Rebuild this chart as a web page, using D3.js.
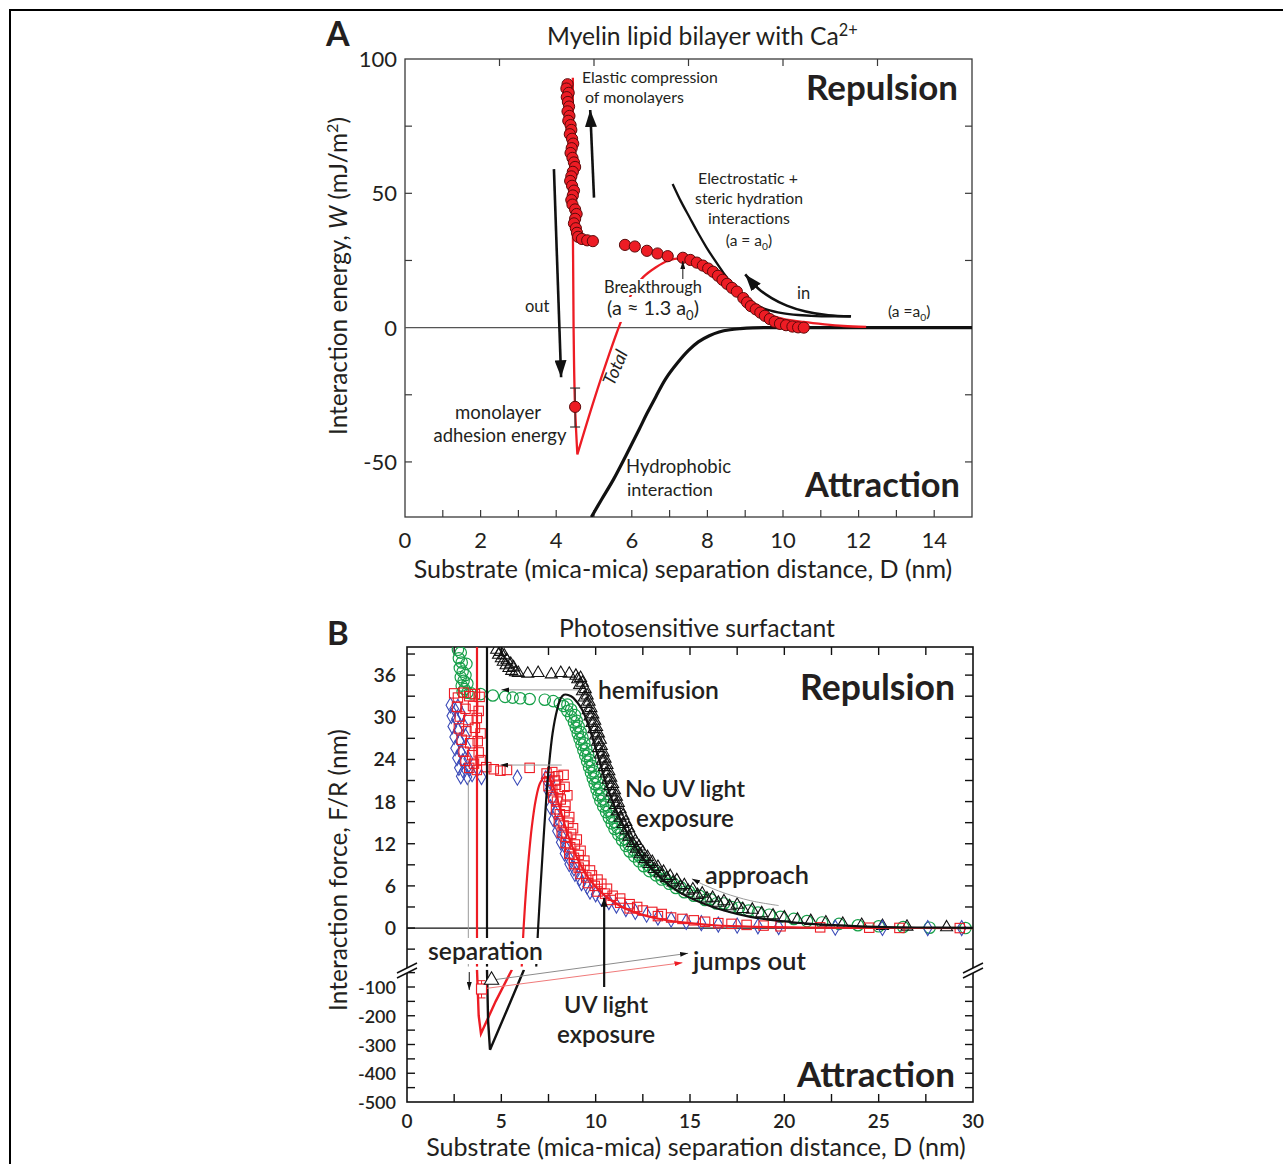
<!DOCTYPE html>
<html>
<head>
<meta charset="utf-8">
<script src="https://d3js.org/d3.v7.min.js"></script>
<style>
  body { margin: 0; background: #fff; }
  text { font-family: Lato, "Open Sans", sans-serif; fill: #231f20; }
</style>
</head>
<body>
<svg id="figure" width="1283" height="1164"></svg>
<script>
//----------------------------
// Panel A data (myelin bilayer, W vs D)
//----------------------------
var aXTicks = [0, 2, 4, 6, 8, 10, 12, 14];
var aYTicks = [-50, 0, 50, 100];

// measured energies (red dots), [D nm, W mJ/m2]
var aDots = [[4.30,90.6],[4.27,89.0],[4.33,87.4],[4.28,85.8],[4.31,84.0],[4.34,82.3],[4.30,80.5],[4.35,78.8],[4.32,77.0],[4.38,75.4],
  [4.40,73.6],[4.36,72.0],[4.42,70.3],[4.45,68.5],[4.41,66.8],[4.38,65.0],[4.43,63.2],[4.47,61.5],[4.50,59.8],[4.44,58.0],
  [4.40,56.3],[4.37,54.6],[4.42,52.8],[4.47,51.0],[4.44,49.2],[4.40,47.5],[4.43,45.8],[4.50,44.0],[4.54,42.3],[4.50,40.5],
  [4.47,38.8],[4.52,37.0],[4.55,35.3],[4.58,33.8],[4.68,33.0],[4.82,32.5],[4.97,32.2],
  [5.82,30.8],[6.08,30.2],[6.40,28.6],[6.68,27.6],[6.95,26.6],[7.35,26.0],[7.55,25.2],[7.72,24.2],[7.88,23.1],[8.02,22.0],
  [8.15,20.8],[8.28,19.3],[8.40,17.8],[8.52,16.3],[8.65,14.8],[8.78,13.4],[8.95,11.0],[9.05,9.4],[9.15,8.0],[9.28,6.8],
  [9.40,5.6],[9.52,4.4],[9.65,3.2],[9.78,2.2],[9.92,1.4],[10.08,0.9],[10.25,0.4],[10.40,0.1],[10.55,0.0]];

// adhesion point with error bar
var aAdhesion = [4.5, -29.5];
var aAdhesionErr = [-37, -22.5];

// "Total" fit (red)
var aTotal = [[4.44,93],[4.44,60],[4.44,40],[4.46,0],[4.50,-30],[4.56,-47.2],[5.0,-27],[5.4,-10],[5.6,-2],[5.8,5.5],
  [5.97,12],[6.15,16],[6.3,18.8],[6.64,22.5],[6.97,25],[7.3,25.8],[7.6,25.2],[7.9,23],[8.2,19.5],[8.5,16],
  [8.87,11.5],[9.2,8],[9.53,5.2],[10.0,3.3],[10.54,2.1],[11.1,1.2],[11.6,0.6],[12.2,0.25]];

// electrostatic + steric hydration (black)
var aElectro = [[7.08,53.5],[7.3,47],[7.53,41],[7.75,35.3],[7.97,30],[8.2,25],[8.42,20.5],[8.65,16.3],[8.87,12.8],
  [9.1,10.2],[9.31,8.3],[9.6,6.6],[9.98,5.4],[10.4,4.7],[10.87,4.3],[11.3,4.2],[11.77,4.2]];

// hydrophobic interaction (black)
var aHydro = [[4.93,-70.5],[5.2,-64],[5.52,-56.4],[5.85,-47.5],[6.19,-38],[6.4,-32],[6.64,-25.6],[6.9,-19],[7.2,-13.3],
  [7.5,-8.5],[7.76,-5.3],[8.05,-3],[8.31,-1.6],[8.6,-0.8],[8.87,-0.4],[9.2,-0.1],[9.5,0],[12,0],[15,0]];

// annotation arrows, data coords
var aInArrow = [[11.8,4.2],[11.2,4.6],[10.6,6],[10.1,8.2],[9.7,11],[9.35,14.5],[9.0,19.8]];
var aOutArrow = [[3.94,59],[4.13,-18.5]];
var aUpArrow = [[5.0,48.4],[4.9,81]];
var aBreakArrow = [[7.35,17.2],[7.35,24.8]];

//----------------------------
// Panel B data (photosensitive surfactant, F/R vs D)
//----------------------------
var bXTicks = [0, 5, 10, 15, 20, 25, 30];
var bYTicksUp = [0, 6, 12, 18, 24, 30, 36];
var bYTicksLow = [-500, -400, -300, -200, -100];

// no UV light (black triangles)
var bTriangles = [[4.75,39.6],[4.85,38.9],[4.95,39.3],[5.0,38.4],[5.1,37.9],[5.15,38.8],[5.25,37.4],[5.3,38.1],[5.4,37.0],[5.5,37.6],
  [5.55,36.6],[5.65,37.1],[5.75,36.4],[5.9,36.3],[6.4,36.2],[6.95,36.3],[7.65,36.1],[8.15,36.3],[8.6,36.2],[8.95,35.9],
  [9.05,35.4],[9.2,35.6],[9.15,34.6],[9.3,34.9],[9.3,33.7],[9.45,34.0],[9.4,32.8],[9.55,33.1],[9.5,31.9],[9.65,32.2],
  [9.6,31.0],[9.75,31.3],[9.7,30.1],[9.85,30.4],[9.8,29.2],[9.95,29.5],[9.9,28.3],[10.05,28.6],[10.0,27.4],[10.15,27.7],
  [10.1,26.5],[10.25,26.8],[10.15,25.6],[10.3,25.9],[10.25,24.7],[10.4,25.0],[10.35,23.8],[10.5,24.1],[10.45,22.9],[10.6,23.2],
  [10.55,22.0],[10.7,22.3],[10.65,21.1],[10.8,21.4],[10.75,20.2],[10.9,20.5],[10.85,19.3],[11.0,19.6],[10.95,18.4],[11.1,18.7],
  [11.05,17.5],[11.2,17.8],[11.15,16.6],[11.3,16.9],[11.3,15.7],[11.45,16.0],[11.45,14.8],[11.6,15.1],[11.6,13.9],[11.75,14.2],
  [11.75,13.0],[11.9,13.3],[11.95,12.1],[12.1,12.4],[12.15,11.3],[12.3,11.6],[12.35,10.5],[12.5,10.8],[12.6,9.8],[12.75,10.1],
  [12.85,9.1],[13.0,9.4],[13.1,8.4],[13.3,8.7],[13.4,7.8],[13.6,8.0],[13.75,7.1],[13.95,7.4],[14.1,6.5],[14.3,6.8],
  [14.5,5.9],[14.7,6.1],[14.9,5.3],[15.15,5.5],[15.4,4.7],[15.65,4.9],[15.9,4.2],[16.2,4.3],[16.5,3.6],[16.8,3.8],
  [17.1,3.1],[17.5,3.3],[17.8,2.7],[18.3,2.6],[18.8,2.1],[19.4,1.8],[20.0,1.5],[20.7,1.2],[21.4,1.0],[22.2,0.8],
  [23.1,0.6],[24.1,0.45],[25.2,0.3],[26.5,0.2],[28.6,0.1]];

// no UV light (green circles)
var bCircles = [[2.7,39.6],[2.85,39.2],[2.75,38.4],[2.9,37.8],[2.8,37.0],[2.95,36.5],[2.85,35.7],[3.0,35.2],[2.9,34.5],[3.05,34.0],
  [3.15,37.6],[3.1,36.0],[3.2,34.8],[2.95,33.6],[3.2,33.5],[3.4,33.4],[3.9,33.3],[4.55,33.1],[5.2,32.9],[5.6,32.8],
  [6.0,32.7],[6.5,32.6],[7.3,32.5],[7.75,32.3],[8.1,32.0],[8.3,31.6],[8.5,31.8],[8.5,30.9],[8.7,31.1],[8.7,30.1],
  [8.9,30.3],[8.85,29.3],[9.0,29.5],[8.95,28.5],[9.1,28.7],[9.05,27.7],[9.2,27.9],[9.15,26.9],[9.3,27.1],[9.25,26.1],
  [9.4,26.3],[9.35,25.3],[9.5,25.5],[9.45,24.5],[9.6,24.7],[9.55,23.7],[9.7,23.9],[9.65,22.9],[9.8,23.1],[9.75,22.1],
  [9.9,22.3],[9.85,21.3],[10.0,21.5],[9.95,20.5],[10.1,20.7],[10.05,19.7],[10.2,19.9],[10.15,18.9],[10.3,19.1],[10.25,18.1],
  [10.4,18.3],[10.4,17.3],[10.55,17.5],[10.55,16.5],[10.7,16.7],[10.7,15.7],[10.85,15.9],[10.85,14.9],[11.0,15.1],[11.0,14.1],
  [11.15,14.3],[11.2,13.3],[11.35,13.5],[11.4,12.5],[11.55,12.7],[11.6,11.7],[11.75,11.9],[11.8,10.9],[12.0,11.1],[12.05,10.2],
  [12.25,10.4],[12.3,9.5],[12.5,9.7],[12.55,8.8],[12.75,9.0],[12.85,8.1],[13.05,8.3],[13.2,7.5],[13.4,7.6],[13.5,6.9],
  [13.7,7.0],[13.9,6.3],[14.1,6.4],[14.25,5.7],[14.5,5.8],[14.7,5.1],[14.95,5.2],[15.2,4.6],[15.5,4.6],[15.8,4.0],
  [16.1,4.1],[16.4,3.5],[16.8,3.5],[17.2,3.0],[17.6,2.9],[18.1,2.5],[18.6,2.2],[19.2,1.9],[19.8,1.6],[20.5,1.3],
  [21.2,1.0],[22.0,0.8],[22.9,0.6],[23.9,0.4],[25.0,0.25],[26.3,0.15],[27.7,0.05],[29.6,0.0]];

// UV light exposure (red squares)
var bSquares = [[2.5,33.4],[2.7,32.8],[3.0,33.5],[3.3,33.0],[3.6,33.3],[3.85,32.9],[2.65,31.5],[3.1,31.2],[3.5,31.6],[3.8,30.9],
  [2.8,30.1],[3.25,29.6],[3.7,29.9],[2.75,28.4],[3.15,28.0],[3.6,28.5],[3.9,27.7],[2.9,26.8],[3.35,26.3],[3.75,26.6],
  [3.0,25.1],[3.45,24.6],[3.8,25.0],[3.1,23.8],[3.55,23.4],[3.9,23.9],[3.3,22.8],[3.7,22.5],
  [4.2,22.9],[4.6,22.6],[4.95,22.4],[5.3,22.5],[6.5,22.8],
  [7.4,22.0],[7.55,21.5],[7.7,22.2],[7.85,21.0],[8.0,21.6],[8.3,21.8],[7.5,20.2],[7.7,19.6],[7.9,20.4],[8.1,19.8],
  [8.35,20.1],[8.5,18.9],[7.75,18.6],[7.95,18.0],[8.15,18.3],[8.4,17.4],[7.9,16.9],[8.1,16.2],[8.35,16.6],[8.6,15.8],
  [8.05,15.2],[8.3,14.6],[8.55,15.0],[8.8,14.2],[8.2,13.6],[8.45,13.0],[8.7,13.4],[9.0,12.6],[8.4,12.1],[8.65,11.5],
  [8.9,11.9],[9.2,11.0],[8.6,10.6],[8.85,10.0],[9.1,10.4],[9.4,9.6],[8.85,9.1],[9.1,8.6],[9.4,8.9],[9.7,8.2],
  [9.2,7.7],[9.5,7.2],[9.8,7.5],[10.1,6.9],[9.6,6.4],[9.95,6.0],[10.3,6.3],[10.6,5.6],[10.1,5.2],[10.5,4.9],
  [10.9,4.6],[11.3,4.2],[10.8,4.0],[11.3,3.6],[11.8,3.4],[12.2,3.0],[11.8,2.8],[12.5,2.5],[13.0,2.3],[13.5,2.0],
  [13.3,1.7],[14.0,1.5],[14.6,1.3],[15.2,1.1],[15.8,0.9],[16.5,0.7],[17.2,0.6],[18.0,0.45],[18.9,0.35],[19.8,0.25],
  [21.9,0.1],[24.5,0.05],[26.1,0.02],[29.3,0.0]];

// UV light exposure (blue diamonds)
var bDiamonds = [[2.3,31.7],[2.5,31.2],[2.7,31.5],[2.35,30.2],[2.6,29.8],[2.9,30.4],[2.4,28.7],[2.7,28.2],[3.0,28.9],[2.5,27.2],
  [2.8,26.7],[3.1,27.3],[2.55,25.6],[2.85,25.1],[3.15,25.8],[2.65,24.2],[2.95,23.7],[3.25,24.1],[2.75,22.8],[3.0,22.3],
  [3.3,22.7],[2.85,21.6],[3.2,21.5],[3.45,21.9],[3.95,21.5],[5.85,21.4],
  [7.35,21.3],[7.6,20.8],[7.5,19.5],[7.7,18.5],[7.6,17.2],[7.85,16.4],[7.75,15.5],[8.0,14.7],[7.95,13.8],[8.2,13.1],
  [8.15,12.2],[8.4,11.5],[8.35,10.6],[8.6,9.9],[8.6,9.1],[8.85,8.5],[8.9,7.7],[9.15,7.1],[9.25,6.4],[9.55,5.9],
  [9.7,5.2],[10.0,4.8],[10.3,4.2],[10.7,3.7],[11.1,3.2],[11.6,2.7],[12.1,2.3],[12.7,1.9],[13.3,1.5],[14.0,1.2],
  [14.8,0.9],[15.6,0.7],[16.5,0.5],[17.5,0.35],[18.6,0.25],[19.7,0.15],[22.7,0.05],[25.2,0.02],[27.6,0.0],[29.4,0.0]];

// fitted curves, upper (repulsive) part
var bFitNoUV = [[6.85,-5.5],[6.95,0],[7.08,6],[7.22,12],[7.37,18],[7.52,23],[7.72,27.8],[7.95,31],[8.15,32.7],[8.32,33.2],
  [8.7,33.0],[9.0,32.2],[9.3,31.0],[9.6,29.0],[9.9,26.5],[10.2,23.8],[10.5,21],[10.9,18],[11.4,15],[12.0,12],
  [12.7,9.3],[13.5,7],[14.5,5],[15.6,3.6],[16.8,2.5],[18.2,1.6],[19.8,1],[21.6,0.55],[24,0.25],[27,0.08],[30,0.02]];
var bFitUV = [[6.08,-5.5],[6.18,0],[6.3,5],[6.45,10],[6.62,14.5],[6.82,18.2],[7.05,20.6],[7.3,21.5],[7.55,21.2],[7.8,19.8],
  [8.05,17.6],[8.35,14.8],[8.7,12],[9.1,9.5],[9.6,7.2],[10.2,5.3],[11,3.6],[12,2.3],[13.2,1.4],[14.6,0.8],
  [16.3,0.4],[18.5,0.18],[21,0.07],[25,0.02],[30,0]];
var bWallNoUV = [[4.24,40],[4.24,-5.5]];
var bWallUV = [[3.71,40],[3.71,-5.5]];
var bWallGray = [[3.25,21],[3.25,-5.5]];

// fitted curves, lower (adhesive) part
var bFitNoUVLow = [[4.24,-40],[4.3,-220],[4.4,-318],[5.3,-180],[6.2,-40]];
var bFitUVLow = [[3.71,-40],[3.8,-200],[3.92,-262],[4.7,-150],[5.56,-40]];
var bSepSquare = [3.95, -107];
var bSepSquareErr = [-138, -78];
var bSepTriangle = [4.48, -76];

//----------------------------
// Setup
//----------------------------
var svg = d3.select("#figure");
var defs = svg.append("defs");

// arrow heads
function head(id, len, wid, color) {
    defs.append("marker")
        .attr("id", id)
        .attr("viewBox", "0 0 " + len + " " + wid)
        .attr("refX", len).attr("refY", wid / 2)
        .attr("markerUnits", "userSpaceOnUse")
        .attr("markerWidth", len).attr("markerHeight", wid)
        .attr("orient", "auto")
        .append("path")
        .attr("d", "M0,0L" + len + "," + (wid / 2) + "L0," + wid + "Z")
        .attr("fill", color);
}
head("bigHead", 17, 12, "#111");
head("midHead", 9, 7, "#111");
head("smallHead", 8, 5, "#111");
head("redHead", 8, 5, "#ed1c24");

// text helper: parts = [[text, kind]], kind = sup | sub | it
function addText(g, x, y, parts, size, o) {
    o = o || {};
    if (typeof parts === "string") parts = [[parts]];
    function build(fs) {
        var t = g.append("text")
            .attr("x", x).attr("y", y)
            .attr("font-size", fs)
            .attr("text-anchor", o.anchor || "start")
            .attr("font-weight", o.weight || 400);
        if (o.italic) t.attr("font-style", "italic");
        if (o.rotate) t.attr("transform", "rotate(" + o.rotate + "," + x + "," + y + ")");
        var shift = 0;
        parts.forEach(function (p) {
            var s = t.append("tspan").text(p[0]);
            var want = p[1] === "sup" ? -0.38 * fs : p[1] === "sub" ? 0.25 * fs : 0;
            if (want !== shift) { s.attr("dy", want - shift); shift = want; }
            if (p[1] === "sup" || p[1] === "sub") s.attr("font-size", fs * 0.66);
            if (p[1] === "it") s.attr("font-style", "italic");
        });
        return t;
    }
    var t = build(size);
    if (o.width) {
        var len = t.node().getComputedTextLength();
        t.remove();
        t = build(size * o.width / len);
    }
    // white knock-out behind the label, drawn in a layer under all texts
    if (o.bg) {
        var bb = t.node().getBBox();
        o.bg.append("rect")
            .attr("x", bb.x - 1).attr("y", bb.y + 2)
            .attr("width", bb.width + 2).attr("height", bb.height - 3)
            .attr("fill", "#fff");
    }
    return t;
}

// inward ticks
function tickLines(g, vals, fn, color, width) {
    g.selectAll(null).data(vals).enter().append("line")
        .each(function (v) {
            var c = fn(v);
            d3.select(this).attr("x1", c[0]).attr("y1", c[1]).attr("x2", c[2]).attr("y2", c[3]);
        })
        .attr("stroke", color).attr("stroke-width", width);
}

// outer frame
svg.append("path")
    .attr("d", "M10,1164V10H1283")
    .attr("fill", "none").attr("stroke", "#000").attr("stroke-width", 2);

//----------------------------
// Panel A
//----------------------------
var xA = d3.scaleLinear().domain([0, 15]).range([405, 972]);
var yA = d3.scaleLinear().domain([-70.5, 100]).range([517, 59]);
var lineA = d3.line().x(d => xA(d[0])).y(d => yA(d[1])).curve(d3.curveCatmullRom);
var gA = svg.append("g");

defs.append("clipPath").attr("id", "clipA").append("rect")
    .attr("x", 405).attr("y", 59).attr("width", 567).attr("height", 458);

// box and zero line
gA.append("rect")
    .attr("x", 405).attr("y", 59).attr("width", 567).attr("height", 458)
    .attr("fill", "none").attr("stroke", "#3a3a3a").attr("stroke-width", 1.3);
gA.append("line")
    .attr("x1", 405).attr("x2", 972).attr("y1", yA(0)).attr("y2", yA(0))
    .attr("stroke", "#555").attr("stroke-width", 1.1);

tickLines(gA, d3.range(1, 15, 1), v => [xA(v), 517, xA(v), 510], "#3a3a3a", 1.2);
tickLines(gA, [2.5, 5, 7.5, 10, 12.5], v => [xA(v), 59, xA(v), 66], "#3a3a3a", 1.2);
tickLines(gA, [-50, -25, 25, 50, 75], v => [405, yA(v), 412, yA(v)], "#3a3a3a", 1.2);
tickLines(gA, [-50, -25, 25, 50, 75], v => [972, yA(v), 965, yA(v)], "#3a3a3a", 1.2);

// tick labels
aXTicks.forEach(function (v) {
    addText(gA, xA(v), 548, String(v), 22, {anchor: "middle"});
});
aYTicks.forEach(function (v) {
    addText(gA, 397, yA(v) + 8, String(v), 22, {anchor: "end"});
});

// titles
addText(gA, 326, 46, "A", 34, {weight: 700});
addText(gA, 547, 45, [["Myelin lipid bilayer with Ca"], ["2+", "sup"]], 23, {width: 311});
addText(gA, 683, 578, "Substrate (mica-mica) separation distance, D (nm)", 23, {anchor: "middle", width: 539});
addText(gA, 347, 276, [["Interaction energy, "], ["W", "it"], [" (mJ/m"], ["2", "sup"], [")"]], 23,
    {anchor: "middle", rotate: -90, width: 318});

// curves
var cA = gA.append("g").attr("clip-path", "url(#clipA)");
cA.append("path").attr("d", lineA(aHydro))
    .attr("fill", "none").attr("stroke", "#111").attr("stroke-width", 3.2);
cA.append("path").attr("d", lineA(aElectro))
    .attr("fill", "none").attr("stroke", "#111").attr("stroke-width", 2.3);
cA.append("path").attr("d", d3.line().x(d => xA(d[0])).y(d => yA(d[1])).curve(d3.curveMonotoneY)(aTotal.slice(0, 6))
        + lineA(aTotal.slice(5)).replace("M", "L"))
    .attr("fill", "none").attr("stroke", "#ed1c24").attr("stroke-width", 2.3);

// measured points
cA.selectAll(".dotA").data(aDots).enter().append("circle")
    .attr("class", "dotA")
    .attr("cx", d => xA(d[0])).attr("cy", d => yA(d[1])).attr("r", 5.6)
    .attr("fill", "#ed1c24").attr("stroke", "#5c0a0a").attr("stroke-width", 1);

// adhesion point + error bar
var eb = gA.append("g").attr("stroke", "#333").attr("stroke-width", 1.2);
eb.append("line").attr("x1", xA(aAdhesion[0])).attr("x2", xA(aAdhesion[0]))
    .attr("y1", yA(aAdhesionErr[0])).attr("y2", yA(aAdhesionErr[1]));
aAdhesionErr.forEach(function (v) {
    eb.append("line").attr("x1", xA(aAdhesion[0]) - 5).attr("x2", xA(aAdhesion[0]) + 5)
        .attr("y1", yA(v)).attr("y2", yA(v));
});
gA.append("circle")
    .attr("cx", xA(aAdhesion[0])).attr("cy", yA(aAdhesion[1])).attr("r", 5.6)
    .attr("fill", "#ed1c24").attr("stroke", "#5c0a0a").attr("stroke-width", 1);

// arrows
var straight = d3.line().x(d => xA(d[0])).y(d => yA(d[1]));
gA.append("path").attr("d", straight(aOutArrow))
    .attr("stroke", "#111").attr("stroke-width", 2.6).attr("fill", "none").attr("marker-end", "url(#bigHead)");
gA.append("path").attr("d", straight(aUpArrow))
    .attr("stroke", "#111").attr("stroke-width", 2.6).attr("fill", "none").attr("marker-end", "url(#bigHead)");
gA.append("path").attr("d", lineA(aInArrow))
    .attr("stroke", "#111").attr("stroke-width", 2.6).attr("fill", "none").attr("marker-end", "url(#bigHead)");
gA.append("path").attr("d", straight(aBreakArrow))
    .attr("stroke", "#111").attr("stroke-width", 1).attr("fill", "none").attr("marker-end", "url(#smallHead)");

// annotations
var knockA = gA.append("g");
addText(gA, 958, 100, "Repulsion", 32, {anchor: "end", weight: 700, width: 152});
addText(gA, 960, 497, "Attraction", 32, {anchor: "end", weight: 700, width: 155});
addText(gA, 582, 83, "Elastic compression", 15, {width: 136});
addText(gA, 585, 103, "of monolayers", 15, {width: 99});
addText(gA, 748, 184, "Electrostatic +", 15, {anchor: "middle", width: 100});
addText(gA, 749, 204, "steric hydration", 15, {anchor: "middle", width: 108});
addText(gA, 749, 224, "interactions", 15, {anchor: "middle", width: 82});
addText(gA, 749, 246, [["(a = a"], ["0", "sub"], [")"]], 15.5, {anchor: "middle"});
addText(gA, 797, 299, "in", 16.5);
addText(gA, 888, 317, [["(a =a"], ["0", "sub"], [")"]], 15.5);
addText(gA, 653, 293, "Breakthrough", 15, {anchor: "middle", width: 98, bg: knockA});
addText(gA, 653, 315, [["(a \u2248 1.3 a"], ["0", "sub"], [")"]], 15.5, {anchor: "middle", width: 92, bg: knockA});
addText(gA, 525, 312, "out", 16.5);
addText(gA, 621, 370, "Total", 18, {anchor: "middle", italic: true, rotate: -67});
addText(gA, 498, 419, "monolayer", 17, {anchor: "middle", width: 86});
addText(gA, 500, 442, "adhesion energy", 17, {anchor: "middle", width: 133});
addText(gA, 626, 473, "Hydrophobic", 17, {width: 105});
addText(gA, 627, 496, "interaction", 17, {width: 86});

//----------------------------
// Panel B
//----------------------------
var xB = d3.scaleLinear().domain([0, 30]).range([407, 973]);
var yBu = d3.scaleLinear().domain([-5.5, 40]).range([966.7, 647]);
var yBl = d3.scaleLinear().domain([-500, -40]).range([1102, 969.75]);
var lineBu = d3.line().x(d => xB(d[0])).y(d => yBu(d[1])).curve(d3.curveCatmullRom);
var lineBl = d3.line().x(d => xB(d[0])).y(d => yBl(d[1]));
var gB = svg.append("g");

defs.append("clipPath").attr("id", "clipBu").append("rect")
    .attr("x", 407).attr("y", 647).attr("width", 566).attr("height", 319.7);
defs.append("clipPath").attr("id", "clipBl").append("rect")
    .attr("x", 407).attr("y", 969.75).attr("width", 566).attr("height", 132.25);

// frame
gB.append("rect")
    .attr("x", 407).attr("y", 647).attr("width", 566).attr("height", 455)
    .attr("fill", "none").attr("stroke", "#111").attr("stroke-width", 1.6);
gB.append("line")
    .attr("x1", 407).attr("x2", 973).attr("y1", yBu(0)).attr("y2", yBu(0))
    .attr("stroke", "#111").attr("stroke-width", 1.3);

var bUpMinor = d3.range(-3, 40, 3);
var bLowMinor = d3.range(-450, -40, 50);
tickLines(gB, d3.range(2.5, 30, 2.5), v => [xB(v), 1102, xB(v), 1094], "#111", 1.4);
tickLines(gB, d3.range(2.5, 30, 2.5), v => [xB(v), 647, xB(v), 655], "#111", 1.4);
tickLines(gB, bUpMinor, v => [407, yBu(v), 415, yBu(v)], "#111", 1.4);
tickLines(gB, bUpMinor, v => [973, yBu(v), 965, yBu(v)], "#111", 1.4);
tickLines(gB, bLowMinor, v => [407, yBl(v), 415, yBl(v)], "#111", 1.4);
tickLines(gB, bLowMinor, v => [973, yBl(v), 965, yBl(v)], "#111", 1.4);

// axis breaks
[407, 973].forEach(function (ax) {
    gB.append("path")
        .attr("d", "M" + (ax - 10) + ",973L" + (ax + 10) + ",963L" + (ax + 10) + ",968L" + (ax - 10) + ",978Z")
        .attr("fill", "#fff");
    gB.append("path")
        .attr("d", "M" + (ax - 10) + ",973L" + (ax + 10) + ",963M" + (ax - 10) + ",978L" + (ax + 10) + ",968")
        .attr("stroke", "#111").attr("stroke-width", 1.5);
});

// tick labels
bXTicks.forEach(function (v) {
    addText(gB, xB(v), 1128, String(v), 19, {anchor: "middle", weight: 600});
});
bYTicksUp.forEach(function (v) {
    addText(gB, 396, yBu(v) + 7, String(v), 19.5, {anchor: "end", weight: 600});
});
bYTicksLow.forEach(function (v) {
    addText(gB, 396, yBl(v) + 7, String(v), 18, {anchor: "end", weight: 600});
});

// titles
addText(gB, 327, 645, "B", 33, {weight: 700});
addText(gB, 697, 637, "Photosensitive surfactant", 23, {anchor: "middle", width: 276});
addText(gB, 696, 1156, "Substrate (mica-mica) separation distance, D (nm)", 23, {anchor: "middle", width: 540});
addText(gB, 347, 870, "Interaction force, F/R (nm)", 23, {anchor: "middle", rotate: -90, width: 282});

// scatter, upper part
var up = gB.append("g").attr("clip-path", "url(#clipBu)");
var sym = d3.symbol();
up.selectAll(".circ").data(bCircles).enter().append("circle")
    .attr("class", "circ")
    .attr("cx", d => xB(d[0])).attr("cy", d => yBu(d[1])).attr("r", 5.7)
    .attr("fill", "none").attr("stroke", "#17a04a").attr("stroke-width", 1.2);
up.selectAll(".tri").data(bTriangles).enter().append("path")
    .attr("class", "tri")
    .attr("transform", d => "translate(" + xB(d[0]) + "," + yBu(d[1]) + ")")
    .attr("d", sym.type(d3.symbolTriangle).size(62)())
    .attr("fill", "none").attr("stroke", "#111").attr("stroke-width", 1.1);
up.selectAll(".dia").data(bDiamonds).enter().append("path")
    .attr("class", "dia")
    .attr("transform", d => "translate(" + xB(d[0]) + "," + yBu(d[1]) + ")")
    .attr("d", d3.symbol().type(d3.symbolDiamond).size(66)())
    .attr("fill", "none").attr("stroke", "#3b4bb8").attr("stroke-width", 1.1);
up.selectAll(".sq").data(bSquares).enter().append("rect")
    .attr("class", "sq")
    .attr("x", d => xB(d[0]) - 4.7).attr("y", d => yBu(d[1]) - 4.7)
    .attr("width", 9.4).attr("height", 9.4)
    .attr("fill", "none").attr("stroke", "#ed1c24").attr("stroke-width", 1.1);

// fitted curves, upper
up.append("path").attr("d", d3.line().x(d => xB(d[0])).y(d => yBu(d[1]))(bWallGray))
    .attr("stroke", "#9a9a9a").attr("stroke-width", 1);
up.append("path").attr("d", d3.line().x(d => xB(d[0])).y(d => yBu(d[1]))(bWallUV))
    .attr("stroke", "#ed1c24").attr("stroke-width", 2.2);
up.append("path").attr("d", d3.line().x(d => xB(d[0])).y(d => yBu(d[1]))(bWallNoUV))
    .attr("stroke", "#111").attr("stroke-width", 2.2);
up.append("path").attr("d", lineBu(bFitUV))
    .attr("fill", "none").attr("stroke", "#ed1c24").attr("stroke-width", 2.2);
up.append("path").attr("d", lineBu(bFitNoUV))
    .attr("fill", "none").attr("stroke", "#111").attr("stroke-width", 2.2);

// lower part
var low = gB.append("g").attr("clip-path", "url(#clipBl)");
low.append("path").attr("d", lineBl(bFitUVLow))
    .attr("fill", "none").attr("stroke", "#ed1c24").attr("stroke-width", 2.4);
low.append("path").attr("d", lineBl(bFitNoUVLow))
    .attr("fill", "none").attr("stroke", "#111").attr("stroke-width", 2.4);

// jumps out arrows (lower scale, running into the break)
gB.append("path").attr("d", lineBl([bSepTriangle, [14.9, 17.2]]))
    .attr("stroke", "#8c8c8c").attr("stroke-width", 1).attr("marker-end", "url(#smallHead)");
gB.append("path").attr("d", lineBl([bSepSquare, [14.6, -15.5]]))
    .attr("stroke", "#f07a7a").attr("stroke-width", 1).attr("marker-end", "url(#redHead)");

// separation markers
var se = gB.append("g").attr("stroke", "#ed1c24").attr("stroke-width", 1);
se.append("line").attr("x1", xB(bSepSquare[0])).attr("x2", xB(bSepSquare[0]))
    .attr("y1", yBl(bSepSquareErr[0])).attr("y2", yBl(bSepSquareErr[1]));
bSepSquareErr.forEach(function (v) {
    se.append("line").attr("x1", xB(bSepSquare[0]) - 4).attr("x2", xB(bSepSquare[0]) + 4)
        .attr("y1", yBl(v)).attr("y2", yBl(v));
});
gB.append("rect")
    .attr("x", xB(bSepSquare[0]) - 5).attr("y", yBl(bSepSquare[1]) - 5)
    .attr("width", 10).attr("height", 10)
    .attr("fill", "#fff").attr("stroke", "#ed1c24").attr("stroke-width", 1.2);
gB.append("path")
    .attr("transform", "translate(" + xB(bSepTriangle[0]) + "," + yBl(bSepTriangle[1]) + ")")
    .attr("d", d3.symbol().type(d3.symbolTriangle).size(90)())
    .attr("fill", "#fff").attr("stroke", "#111").attr("stroke-width", 1.1);

// annotation arrows
gB.append("path").attr("d", lineBl([[3.3, -48], [3.3, -110]]))
    .attr("stroke", "#111").attr("stroke-width", 1).attr("marker-end", "url(#smallHead)");
gB.append("path").attr("d", d3.line().x(d => xB(d[0])).y(d => yBu(d[1]))([[9.1, 33.9], [5.0, 33.9]]))
    .attr("stroke", "#9a9a9a").attr("stroke-width", 1).attr("marker-end", "url(#smallHead)");
gB.append("path").attr("d", d3.line().x(d => xB(d[0])).y(d => yBu(d[1]))([[8.2, 23.2], [4.95, 23.2]]))
    .attr("stroke", "#9a9a9a").attr("stroke-width", 1).attr("marker-end", "url(#smallHead)");
gB.append("path").attr("d", lineBu([[19.7, 3.2], [18.2, 3.9], [16.8, 5.0], [15.7, 6.2], [15.1, 7.0]]))
    .attr("fill", "none").attr("stroke", "#9a9a9a").attr("stroke-width", 1).attr("marker-end", "url(#smallHead)");
gB.append("line")
    .attr("x1", xB(10.45)).attr("x2", xB(10.45)).attr("y1", yBl(-100)).attr("y2", yBu(4.3))
    .attr("stroke", "#111").attr("stroke-width", 2.2).attr("marker-end", "url(#midHead)");

// annotations
var knockB = gB.append("g");
addText(gB, 955, 700, "Repulsion", 32, {anchor: "end", weight: 700, width: 155});
addText(gB, 955, 1087, "Attraction", 32, {anchor: "end", weight: 700, width: 158});
addText(gB, 598, 699, "hemifusion", 22, {weight: 600, width: 121});
addText(gB, 625, 797, "No UV light", 22, {weight: 600, width: 120});
addText(gB, 636, 827, "exposure", 22, {weight: 600, width: 98});
addText(gB, 705, 884, "approach", 22, {weight: 600, width: 104});
addText(gB, 428, 960, "separation", 22, {weight: 600, width: 115, bg: knockB});
addText(gB, 693, 970, "jumps out", 22, {weight: 600, width: 113});
addText(gB, 606, 1013, "UV light", 22, {anchor: "middle", weight: 600, width: 84});
addText(gB, 606, 1043, "exposure", 22, {anchor: "middle", weight: 600, width: 98});
</script>
</body>
</html>
